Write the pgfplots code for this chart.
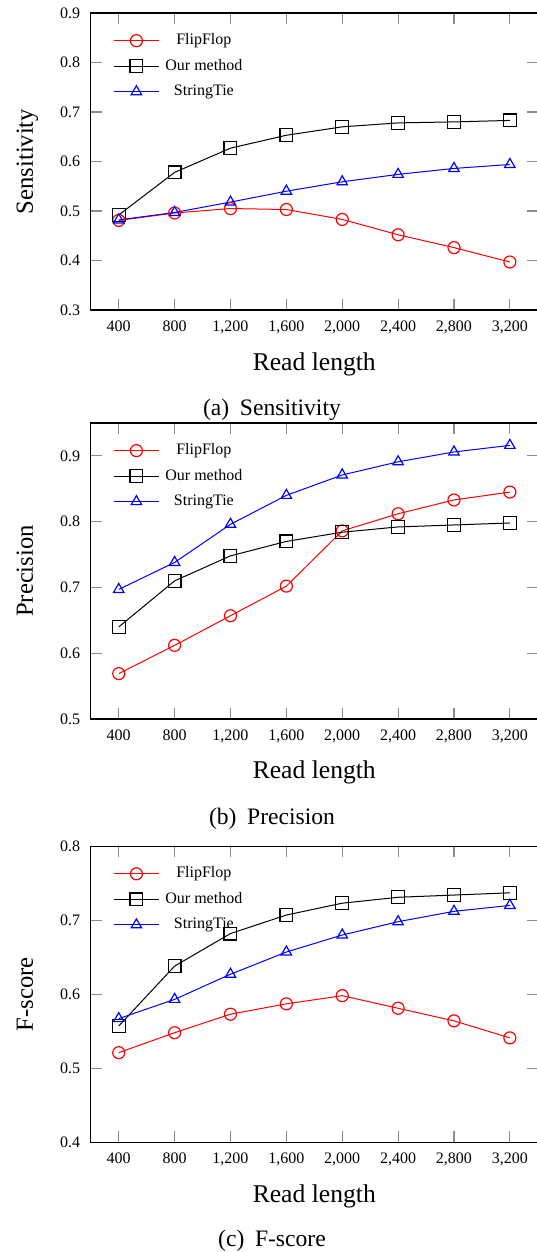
\documentclass[border=0pt]{standalone}
\usepackage{fontspec}
\setmainfont{Liberation Serif}
\usepackage{pgfplots}
\pgfplotsset{compat=1.18}
\definecolor{tickgray}{RGB}{140,140,140}
\pgfplotsset{
  myax/.style={
    scale only axis, width=223.5pt,
    xmin=200, xmax=3400,
    xtick={400,800,1200,1600,2000,2400,2800,3200},
    /pgf/number format/assume math mode=true,
    /pgf/number format/1000 sep={,},
    tick label style={font=\fontsize{8}{9.6}\selectfont},
    xticklabel style={yshift=-2pt},
    yticklabel style={xshift=-1.8pt},
    major tick length=5.5pt,
    tick align=inside,
    xtick pos=both, ytick pos=both,
    xticklabel pos=bottom, yticklabel pos=left,
    axis line style={line width=0.6pt},
    every tick/.style={tickgray, line width=0.6pt},
    xlabel={Read length},
    every axis x label/.style={at={(axis description cs:0.5,-0.2025)}, anchor=base, font=\fontsize{12.8}{14}\selectfont},
    every axis y label/.style={at={(axis description cs:-0.1298,0.5)}, rotate=90, anchor=base, font=\fontsize{12.3}{14}\selectfont},
    legend style={draw=none, fill=none, inner sep=0pt, outer sep=0pt,
      at={(axis description cs:0.0506,0.9337)}, anchor=north west,
      row sep=4.75pt, column sep=3pt,
      nodes={inner sep=0pt, text height=6pt, text depth=2pt, font=\fontsize{8}{9.6}\selectfont}},
    legend cell align=center,
    legend image code/.code={\draw[mark repeat=2,mark phase=2] plot coordinates {(0pt,0pt) (11.25pt,0pt) (22.5pt,0pt)};},
  },
  ff/.style={red, line width=0.5pt, mark=o, mark size=3pt, mark options={solid, line width=0.6pt}},
  om/.style={black, line width=0.5pt, mark=square, mark size=3.2pt, mark options={solid, line width=0.6pt}},
  st/.style={blue, line width=0.5pt, mark=triangle, mark size=3pt, mark options={solid, line width=0.6pt}},
}
\begin{document}
\begin{tikzpicture}
% (a) Sensitivity
\begin{axis}[myax, at={(45.4pt,-155pt)}, anchor=south west, height=148.5pt,
  ymin=0.3, ymax=0.9, ytick={0.3,0.4,0.5,0.6,0.7,0.8,0.9}, ylabel={Sensitivity}]
\addplot[ff] coordinates {(400,0.481) (800,0.496) (1200,0.505) (1600,0.503) (2000,0.483) (2400,0.452) (2800,0.426) (3200,0.397)};
\addlegendentry{FlipFlop}
\addplot[om] coordinates {(400,0.492) (800,0.578) (1200,0.627) (1600,0.653) (2000,0.670) (2400,0.678) (2800,0.680) (3200,0.683)};
\addlegendentry{Our method}
\addplot[st] coordinates {(400,0.482) (800,0.497) (1200,0.518) (1600,0.540) (2000,0.559) (2400,0.574) (2800,0.586) (3200,0.594)};
\addlegendentry{StringTie}
\end{axis}
% (b) Precision
\begin{axis}[myax, at={(45.4pt,-359.5pt)}, anchor=south west, height=148pt,
  ymin=0.5, ymax=0.95, ytick={0.5,0.6,0.7,0.8,0.9}, ylabel={Precision}]
\addplot[ff] coordinates {(400,0.569) (800,0.612) (1200,0.657) (1600,0.702) (2000,0.786) (2400,0.812) (2800,0.833) (3200,0.845)};
\addlegendentry{FlipFlop}
\addplot[om] coordinates {(400,0.640) (800,0.710) (1200,0.748) (1600,0.770) (2000,0.784) (2400,0.792) (2800,0.795) (3200,0.798)};
\addlegendentry{Our method}
\addplot[st] coordinates {(400,0.697) (800,0.738) (1200,0.796) (1600,0.840) (2000,0.871) (2400,0.891) (2800,0.906) (3200,0.916)};
\addlegendentry{StringTie}
\end{axis}
% (c) F-score
\begin{axis}[myax, at={(45.4pt,-571.1pt)}, anchor=south west, height=148pt,
  ymin=0.4, ymax=0.8, ytick={0.4,0.5,0.6,0.7,0.8}, ylabel={F-score}]
\addplot[ff] coordinates {(400,0.521) (800,0.548) (1200,0.573) (1600,0.587) (2000,0.598) (2400,0.581) (2800,0.564) (3200,0.541)};
\addlegendentry{FlipFlop}
\addplot[om] coordinates {(400,0.557) (800,0.638) (1200,0.682) (1600,0.707) (2000,0.723) (2400,0.731) (2800,0.734) (3200,0.737)};
\addlegendentry{Our method}
\addplot[st] coordinates {(400,0.567) (800,0.593) (1200,0.627) (1600,0.657) (2000,0.680) (2400,0.698) (2800,0.712) (3200,0.720)};
\addlegendentry{StringTie}
\end{axis}
\node[anchor=base, font=\fontsize{11.8}{14}\selectfont] at (136pt,-207.5pt) {(a)\hspace{0.45em}Sensitivity};
\node[anchor=base, font=\fontsize{11.8}{14}\selectfont] at (136pt,-412pt) {(b)\hspace{0.45em}Precision};
\node[anchor=base, font=\fontsize{11.8}{14}\selectfont] at (136pt,-623.3pt) {(c)\hspace{0.45em}F-score};
\pgfresetboundingbox
\path[use as bounding box] (0pt,0pt) rectangle (268pt,-626pt);
\end{tikzpicture}
\end{document}
